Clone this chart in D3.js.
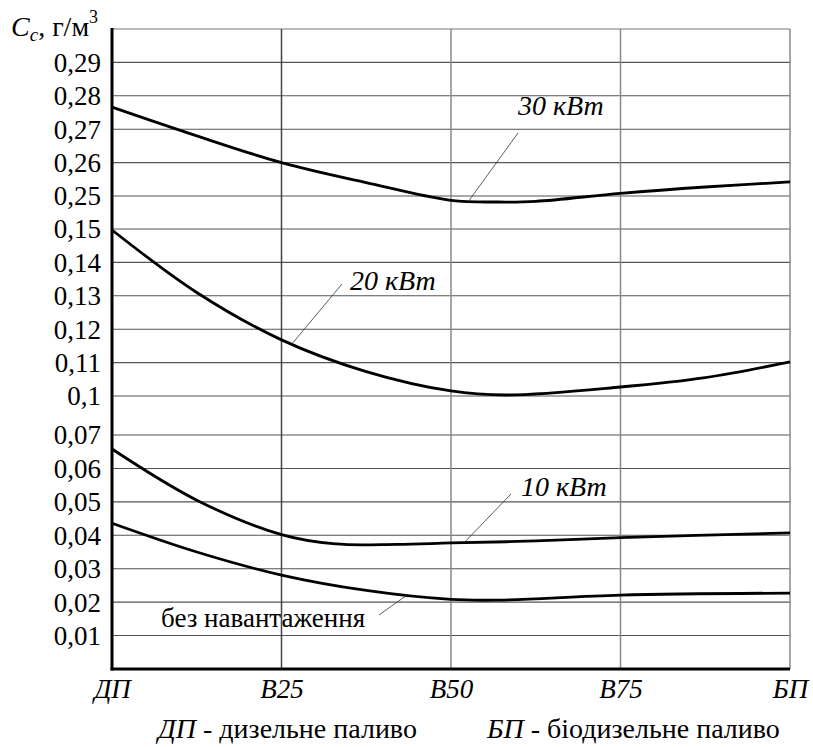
<!DOCTYPE html>
<html><head><meta charset="utf-8">
<script src="https://cdn.jsdelivr.net/npm/d3@7"></script>
<style>
html,body{margin:0;padding:0;background:#fff;}
svg text{font-family:"Liberation Serif","Tinos","Times New Roman","DejaVu Serif",serif !important;}
</style>
</head><body>
<svg id="chart" width="813" height="747"></svg>
<script>
// ---- data ----
const xTickValues = [0, 25, 50, 75, 100];
const xTickLabels = ["ДП", "B25", "B50", "B75", "БП"];

const yTicksTop = [0.25, 0.26, 0.27, 0.28, 0.29];
const yTicksMid = [0.10, 0.11, 0.12, 0.13, 0.14, 0.15];
const yTicksBot = [0.01, 0.02, 0.03, 0.04, 0.05, 0.06, 0.07];

// share of biodiesel (%)
const xKw30 = [0, 12.5, 25, 37.5, 50, 57, 62.5, 75, 87.5, 100];
const kw30  = [0.2766, 0.2680, 0.2600, 0.2540, 0.2487, 0.2482, 0.2484, 0.2508, 0.2527, 0.2542];

const xKw20 = [0, 12.5, 25, 37.5, 50, 58, 75, 87.5, 100];
const kw20  = [0.1497, 0.1310, 0.1168, 0.1073, 0.1015, 0.1003, 0.1027, 0.1055, 0.1102];

const xKw10 = [0, 12.5, 25, 33, 42, 50, 62.5, 75, 100];
const kw10  = [0.0658, 0.0505, 0.0402, 0.0374, 0.0373, 0.0377, 0.0383, 0.0393, 0.0407];

const xIdle = [0, 12.5, 25, 37.5, 50, 57, 75, 100];
const idle  = [0.0436, 0.0350, 0.0281, 0.0235, 0.0208, 0.0206, 0.0221, 0.0227];

const seriesLabels = ["30 кВт", "20 кВт", "10 кВт", "без навантаження"];

// ---- layout ----
const svg = d3.select("#chart");
const L = 112, R = 790;
const x = d3.scaleLinear().domain([0, 100]).range([L, R]);
const yTop = d3.scaleLinear().domain([0.25, 0.30]).range([196, 29]);
const yMid = d3.scaleLinear().domain([0.10, 0.15]).range([396, 229]);
const yBot = d3.scaleLinear().domain([0, 0.07]).range([669, 435]);
const fmt = v => d3.format(".2~f")(v).replace(".", ",");

// grid: horizontal
const gGrid = svg.append("g");
[[yTop, yTicksTop], [yMid, yTicksMid], [yBot, yTicksBot]].forEach(([sc, ticks]) => {
  gGrid.selectAll(null).data(ticks).enter().append("line")
    .attr("x1", L).attr("x2", R)
    .attr("y1", d => sc(d)).attr("y2", d => sc(d))
    .attr("stroke", "#555").attr("stroke-width", 1.1);
});
// top frame
gGrid.append("line").attr("x1", L).attr("x2", R).attr("y1", yTop(0.30)).attr("y2", yTop(0.30))
  .attr("stroke", "#777").attr("stroke-width", 1.2);
// vertical grid
gGrid.selectAll(null).data(xTickValues.slice(1)).enter().append("line")
  .attr("x1", d => x(d)).attr("x2", d => x(d))
  .attr("y1", yTop(0.30)).attr("y2", yBot(0))
  .attr("stroke", (d, i) => i === 0 ? "#444" : "#888").attr("stroke-width", 1.5);

// y tick labels
const gY = svg.append("g").attr("font-size", 27).attr("text-anchor", "end").attr("fill", "#000");
[[yTop, yTicksTop], [yMid, yTicksMid], [yBot, yTicksBot]].forEach(([sc, ticks]) => {
  gY.selectAll(null).data(ticks).enter().append("text")
    .attr("x", 101).attr("y", d => sc(d)).attr("dy", "0.35em")
    .text(d => fmt(d));
});

// x axis
const xAxis = d3.axisBottom(x).tickValues(xTickValues)
  .tickFormat((d, i) => xTickLabels[i]).tickSize(0).tickPadding(10);
const gX = svg.append("g").attr("transform", `translate(0,${yBot(0)})`).call(xAxis);
gX.select(".domain").remove();
gX.selectAll("text").attr("font-size", 27)
  .attr("font-style", "italic").attr("fill", "#000");

// axes lines (thick)
svg.append("line").attr("x1", L).attr("x2", L).attr("y1", yTop(0.30) - 1).attr("y2", yBot(0) + 1.5)
  .attr("stroke", "#000").attr("stroke-width", 3);
svg.append("line").attr("x1", L - 1.5).attr("x2", R).attr("y1", yBot(0)).attr("y2", yBot(0))
  .attr("stroke", "#000").attr("stroke-width", 3);

// curves
const line = sc => d3.line().x(d => x(d[0])).y(d => sc(d[1])).curve(d3.curveCatmullRom.alpha(0.5));
const curves = [[xKw30, kw30, yTop], [xKw20, kw20, yMid], [xKw10, kw10, yBot], [xIdle, idle, yBot]];
curves.forEach(([xs, ys, sc]) => {
  svg.append("path").datum(xs.map((v, i) => [v, ys[i]]))
    .attr("d", line(sc)).attr("fill", "none").attr("stroke", "#000").attr("stroke-width", 2.8);
});

// labels with leader lines
const gLab = svg.append("g").attr("font-size", 28).attr("font-style", "italic");
// 30 kW
gLab.append("text").attr("x", 518).attr("y", 115).text(seriesLabels[0]);
svg.append("line").attr("x1", 518).attr("y1", 133).attr("x2", x(52.5)).attr("y2", yTop(0.2482))
  .attr("stroke", "#333").attr("stroke-width", 0.8);
// 20 kW
gLab.append("text").attr("x", 350).attr("y", 290).text(seriesLabels[1]);
svg.append("line").attr("x1", 342).attr("y1", 284).attr("x2", x(26.5)).attr("y2", yMid(0.1155))
  .attr("stroke", "#333").attr("stroke-width", 0.8);
// 10 kW
gLab.append("text").attr("x", 521).attr("y", 496).text(seriesLabels[2]);
svg.append("line").attr("x1", 511).attr("y1", 494).attr("x2", x(52)).attr("y2", yBot(0.0379))
  .attr("stroke", "#333").attr("stroke-width", 0.8);
// idle
svg.append("text").attr("x", 161).attr("y", 627).attr("font-size", 27).text(seriesLabels[3]);
svg.append("line").attr("x1", 379).attr("y1", 615).attr("x2", x(43.5)).attr("y2", yBot(0.0221))
  .attr("stroke", "#333").attr("stroke-width", 0.8);

// y title
const yt = svg.append("text").attr("x", 11).attr("y", 36).attr("font-size", 28);
yt.append("tspan").attr("font-style", "italic").text("C");
yt.append("tspan").attr("font-style", "italic").attr("font-size", 19).attr("dy", 5).text("c");
yt.append("tspan").attr("dy", -5).text(", г/м");
yt.append("tspan").attr("font-size", 18).attr("dy", -13).text("3");

// bottom legend
const lg = svg.append("text").attr("x", 158).attr("y", 738).attr("font-size", 28);
lg.append("tspan").attr("font-style", "italic").text("ДП");
lg.append("tspan").text(" - дизельне паливо");
const lg2 = svg.append("text").attr("x", 487).attr("y", 738).attr("font-size", 28);
lg2.append("tspan").attr("font-style", "italic").text("БП");
lg2.append("tspan").text(" - біодизельне паливо");
</script>
</body></html>
